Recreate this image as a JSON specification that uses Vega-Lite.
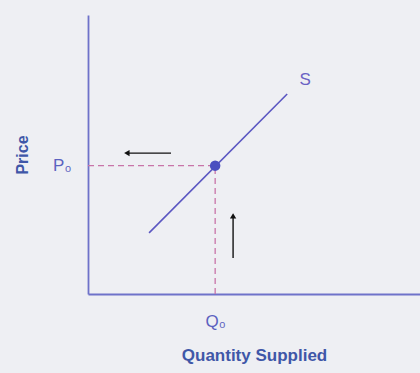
{
  "$schema": "https://vega.github.io/schema/vega-lite/v6.json",
  "width": 332,
  "height": 279,
  "autosize": {"type": "none"},
  "padding": {"left": 88, "top": 15, "right": 0, "bottom": 79},
  "background": "#eeeff3",
  "config": {
    "view": {"stroke": null},
    "font": "Liberation Sans"
  },
  "data": {
    "values": [
      {"kind": "supply", "q": 1.84, "p": 2.19},
      {"kind": "supply", "q": 6.0, "p": 7.17},
      {"kind": "dash", "q": 0, "q2": 3.83, "p": 4.6, "p2": 4.6},
      {"kind": "dash", "q": 3.83, "q2": 3.83, "p": 0, "p2": 4.6},
      {"kind": "arrow", "q": 1.17, "q2": 2.5, "p": 5.05, "p2": 5.05},
      {"kind": "arrow", "q": 4.37, "q2": 4.37, "p": 1.29, "p2": 2.8},
      {"kind": "headL", "q": 1.17, "p": 5.05},
      {"kind": "headU", "q": 4.37, "p": 2.8},
      {"kind": "eq", "q": 3.83, "p": 4.6},
      {"kind": "label", "q": 6.54, "p": 7.67, "text": "S"}
    ]
  },
  "encoding": {
    "x": {
      "field": "q", "type": "quantitative",
      "scale": {"domain": [0, 10], "nice": false},
      "axis": {
        "title": "Quantity Supplied",
        "values": [3.83],
        "labelExpr": "'Q₀'",
        "ticks": false,
        "grid": false,
        "domainColor": "#6e72c9",
        "domainWidth": 1.8,
        "labelColor": "#5b62c0",
        "labelFontSize": 17,
        "labelPadding": 19,
        "titleFontSize": 17,
        "titleFontWeight": "bold",
        "titleColor": "#3f57a8",
        "titlePadding": 18
      }
    },
    "y": {
      "field": "p", "type": "quantitative",
      "scale": {"domain": [0, 10], "nice": false},
      "axis": {
        "title": "Price",
        "values": [4.6],
        "labelExpr": "'P₀'",
        "ticks": false,
        "grid": false,
        "domainColor": "#6e72c9",
        "domainWidth": 1.8,
        "labelColor": "#5b62c0",
        "labelFontSize": 17,
        "labelPadding": 17,
        "titleFontSize": 16,
        "titleFontWeight": "bold",
        "titleColor": "#3f57a8",
        "titlePadding": 22
      }
    }
  },
  "layer": [
    {
      "transform": [{"filter": "datum.kind === 'dash'"}],
      "mark": {"type": "rule", "color": "#c874a8", "strokeWidth": 1.3, "strokeDash": [6, 4]},
      "encoding": {"x2": {"field": "q2"}, "y2": {"field": "p2"}}
    },
    {
      "transform": [{"filter": "datum.kind === 'supply'"}],
      "mark": {"type": "line", "color": "#5b57c2", "strokeWidth": 1.6},
      "encoding": {}
    },
    {
      "transform": [{"filter": "datum.kind === 'arrow'"}],
      "mark": {"type": "rule", "color": "#111111", "strokeWidth": 1.4},
      "encoding": {"x2": {"field": "q2"}, "y2": {"field": "p2"}}
    },
    {
      "transform": [{"filter": "datum.kind === 'headL'"}],
      "mark": {"type": "point", "shape": "triangle-left", "filled": true, "color": "#111111", "size": 40, "opacity": 1},
      "encoding": {}
    },
    {
      "transform": [{"filter": "datum.kind === 'headU'"}],
      "mark": {"type": "point", "shape": "triangle-up", "filled": true, "color": "#111111", "size": 40, "opacity": 1},
      "encoding": {}
    },
    {
      "transform": [{"filter": "datum.kind === 'eq'"}],
      "mark": {"type": "circle", "color": "#4a4fc0", "size": 110, "opacity": 1},
      "encoding": {}
    },
    {
      "transform": [{"filter": "datum.kind === 'label'"}],
      "mark": {"type": "text", "color": "#6a62c4", "fontSize": 17, "align": "center", "baseline": "middle"},
      "encoding": {"text": {"field": "text"}}
    }
  ]
}
